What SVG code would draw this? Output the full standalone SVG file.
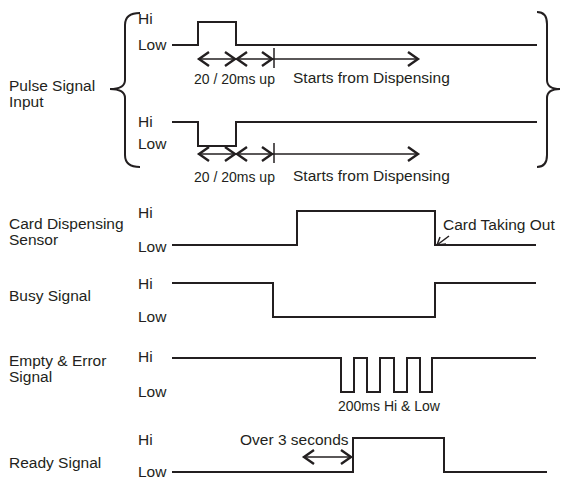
<svg xmlns="http://www.w3.org/2000/svg" xmlns:xlink="http://www.w3.org/1999/xlink" width="561" height="479" viewBox="0 0 561 479">
<style>
text{font-family:"Liberation Sans",Arial,sans-serif;font-size:15.5px;fill:#231f20}
.sm{font-size:14px}
.sig{fill:none;stroke:#231f20;stroke-width:2;stroke-linejoin:miter}
.shaft{fill:none;stroke:#231f20;stroke-width:1.5}
.chev{fill:none;stroke:#231f20;stroke-width:2.4}
.br{fill:none;stroke:#231f20;stroke-width:2}
</style>
<defs>
<polyline id="cr" class="chev" points="-10,-7 0,0 -10,7"/>
<polyline id="cl" class="chev" points="10,-7 0,0 10,7"/>
</defs>
<rect width="561" height="479" fill="#fff"/>

<g id="labels">
<text x="9" y="91">Pulse Signal</text>
<text x="9" y="107">Input</text>
<text x="9" y="229">Card Dispensing</text>
<text x="9" y="245">Sensor</text>
<text x="9" y="301">Busy Signal</text>
<text x="9" y="366">Empty &amp; Error</text>
<text x="9" y="382">Signal</text>
<text x="9" y="468">Ready Signal</text>
</g>

<g id="braces">
<path class="br" d="M140,13 Q125,13 125,25 L125,80 Q125,89 110,89 Q125,89 125,98 L125,155 Q125,167 140,167"/>
<path class="br" d="M537,12 Q547,12 547,24 L547,80 Q547,89 560,89 Q547,89 547,98 L547,155 Q547,167 537,167"/>
</g>

<g id="pulse1">
<text x="138" y="24">Hi</text>
<text x="138" y="50">Low</text>
<polyline class="sig" points="172,45 198,45 198,22 236,22 236,45 537,45"/>
</g>
<g id="pulse1-timing">
<line class="shaft" x1="198" y1="59" x2="418" y2="59"/>
<use xlink:href="#cl" x="199" y="59"/>
<use xlink:href="#cr" x="235" y="59"/>
<use xlink:href="#cl" x="237" y="59"/>
<use xlink:href="#cr" x="272" y="59"/>
<use xlink:href="#cr" x="418" y="59"/>
<line class="shaft" x1="274" y1="48" x2="274" y2="68"/>
<text class="sm" x="194" y="84">20 / 20ms up</text>
<text x="293" y="83">Starts from Dispensing</text>
</g>

<g id="pulse2">
<text x="138" y="127">Hi</text>
<text x="138" y="149">Low</text>
<polyline class="sig" points="172,122 198,122 198,146 236,146 236,122 537,122"/>
</g>
<g id="pulse2-timing">
<line class="shaft" x1="198" y1="154" x2="418" y2="154"/>
<use xlink:href="#cl" x="199" y="154"/>
<use xlink:href="#cr" x="235" y="154"/>
<use xlink:href="#cl" x="237" y="154"/>
<use xlink:href="#cr" x="272" y="154"/>
<use xlink:href="#cr" x="418" y="154"/>
<line class="shaft" x1="274" y1="143" x2="274" y2="163"/>
<text class="sm" x="194" y="182">20 / 20ms up</text>
<text x="293" y="181">Starts from Dispensing</text>
</g>

<g id="card-sensor">
<text x="138" y="218">Hi</text>
<text x="138" y="252">Low</text>
<polyline class="sig" points="172,245 297,245 297,211 435,211 435,245 536,245"/>
<text x="443" y="230">Card Taking Out</text>
<line class="shaft" x1="449" y1="236" x2="437" y2="245"/>
<polyline class="shaft" stroke-width="1.8" points="440,237 437,245 446,244"/>
</g>

<g id="busy">
<text x="138" y="289">Hi</text>
<text x="138" y="322">Low</text>
<polyline class="sig" points="172,283 273,283 273,317 435,317 435,283 536,283"/>
</g>

<g id="empty-error">
<text x="138" y="362">Hi</text>
<text x="138" y="397">Low</text>
<polyline class="sig" points="172,358 341,358 341,392 354,392 354,358 367,358 367,392 380,392 380,358 394,358 394,392 407,392 407,358 420,358 420,392 432,392 432,358 536,358"/>
<text class="sm" x="338" y="411">200ms Hi &amp; Low</text>
</g>

<g id="ready">
<text x="138" y="445">Hi</text>
<text x="138" y="477">Low</text>
<polyline class="sig" points="172,472 353,472 353,438 444,438 444,472 547,472"/>
<text x="240" y="445">Over 3 seconds</text>
<line class="shaft" x1="303" y1="457" x2="351" y2="457"/>
<use xlink:href="#cl" x="304" y="457"/>
<use xlink:href="#cr" x="351" y="457"/>
</g>
</svg>
